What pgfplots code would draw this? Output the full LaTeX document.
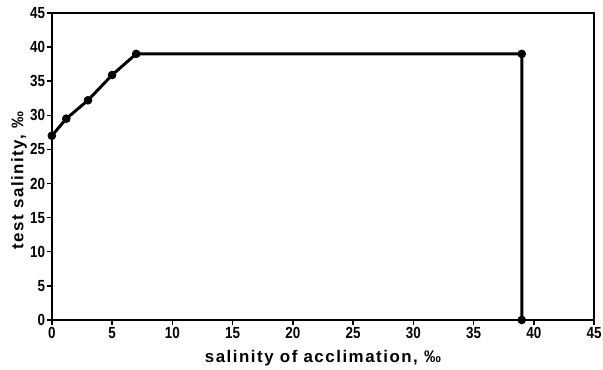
\documentclass[border=0pt]{standalone}
\usepackage{fontspec}
\setmainfont{Liberation Sans}
\usepackage{graphicx}
\usepackage{pgfplots}
\pgfplotsset{compat=1.18}
\begin{document}
\begin{tikzpicture}
\begin{axis}[
  scale only axis,
  width=544bp, height=308bp,
  xmin=0, xmax=45, ymin=0, ymax=45,
  xtick={0,5,...,45}, ytick={0,5,...,45},
  axis line style={line width=1.8pt},
  tick style={line width=1.5pt, black},
  tick align=outside,
  xtick pos=bottom, ytick pos=left,
  major tick length=5bp,
  xticklabel={\scalebox{1}[1.2]{\pgfmathprintnumber{\tick}}},
  yticklabel={\scalebox{1}[1.2]{\pgfmathprintnumber{\tick}}},
  /pgf/number format/assume math mode=true,
  tick label style={font=\fontsize{13.5}{13.5}\selectfont\bfseries},
  xticklabel style={inner sep=1.5bp, yshift=-1bp},
  yticklabel style={inner sep=1.5bp},
  xlabel={\fontsize{17}{17}\selectfont\bfseries\addfontfeature{LetterSpace=9}salinity of acclimation, ‰},
  ylabel={\fontsize{17}{17}\selectfont\bfseries\addfontfeature{LetterSpace=9}test salinity, ‰},
  xlabel style={at={(rel axis cs:0.5,0)}, anchor=center, yshift=-38bp},
  ylabel style={at={(rel axis cs:0,0.5)}, anchor=center, yshift=33bp, xshift=-14bp},
]
\addplot[black, line width=3pt, mark=*, mark size=3.8bp, mark options={solid, fill=black, line width=1pt}] coordinates {
(0,27) (1.2,29.5) (3,32.2) (5,35.9) (7,39) (39,39) (39,0)
};
\end{axis}
\path (current axis.south west) ++(-52bp,-50bp) coordinate (bbA);
\path (current axis.north east) ++(7bp,13bp) coordinate (bbB);
\useasboundingbox (bbA) rectangle (bbB);
\end{tikzpicture}
\end{document}
